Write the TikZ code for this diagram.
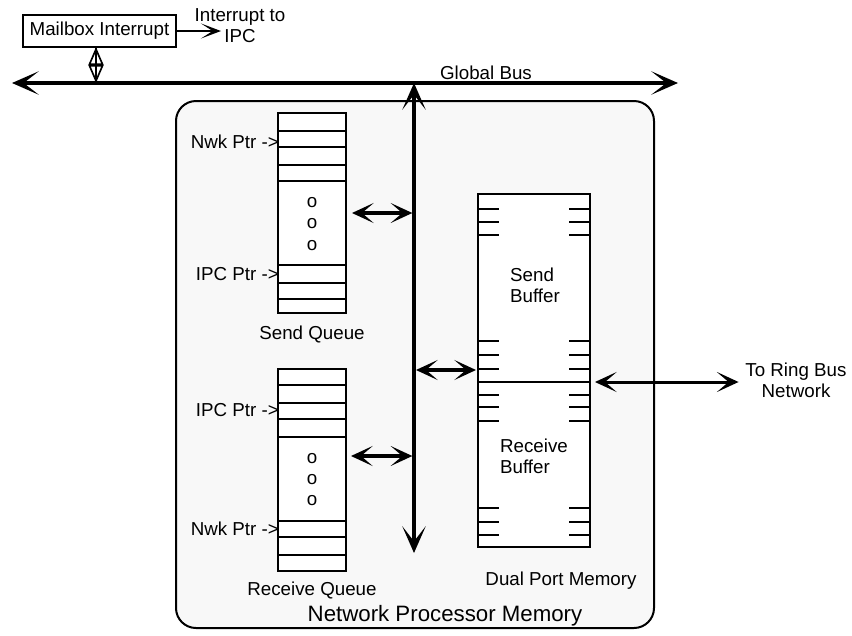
\documentclass[tikz,border=0pt]{standalone}
\usepackage{fontspec}
\setmainfont{Liberation Sans}
\usepackage{xcolor}
\definecolor{npmgray}{HTML}{F8F8F8}
\usetikzlibrary{arrows.meta,positioning,calc}
\newcommand{\pxu}{0.3mm}

\begin{document}
\begin{tikzpicture}[x=0.3mm,y=-0.3mm,font=\fontsize{16}{18}\selectfont]
\tikzset{
 box/.style={draw,line width=0.6mm,fill=white,inner sep=0pt,outer sep=0pt},
 lbl/.style={inner sep=0pt,align=center},
 bus/.style={{Stealth[length=8mm,width=7mm,inset=4.5mm]}-{Stealth[length=8mm,width=7mm,inset=4.5mm]},line width=1.2mm},
 dbl/.style={{Stealth[length=6.5mm,width=6mm,inset=3.5mm]}-{Stealth[length=6.5mm,width=6mm,inset=3.5mm]},line width=1mm},
 row/.style={line width=0.6mm},
 tick/.style={line width=0.6mm}
}
\useasboundingbox (0,0) rectangle (852,635);

\node[box,line width=0.5mm,minimum width=153*\pxu,minimum height=32*\pxu] (mbox) at (99.5,31) {Mailbox Interrupt};
\node[lbl] (ipc) at (240,26) {Interrupt to\\IPC};
\coordinate (ipcin) at (221,33);
\draw[line width=0.5mm,-{Stealth[length=6mm,width=4.5mm,inset=3.5mm]}] (mbox.east) -- (mbox.east -| ipcin);

\draw[line width=0.6mm,rounded corners=6mm,fill=npmgray] (176,101) rectangle (654,628);

\coordinate (gbl) at (12,83);
\coordinate (gbr) at (678,83);
\draw[bus] (gbl) -- (gbr);
\node[lbl,anchor=base] (gblbl) at (486,79) {Global Bus};

\coordinate (mtap) at (96,83);
\draw[line width=0.7mm] (mtap) -- (mtap |- mbox.south);
\draw[line width=0.5mm,{Stealth[open,inset=0pt,length=5.4mm,width=4.5mm]}-{Stealth[open,inset=0pt,length=5.4mm,width=4.5mm]}] (mtap) -- (mtap |- mbox.south);

\coordinate (vbt) at (414,83);
\coordinate (vbb) at (414,553);
\draw[bus,line width=1mm] (vbb) -- (vbt);

\node[box,minimum width=68*\pxu,minimum height=200*\pxu] (sq) at (312,213) {};
\foreach \y in {131,147,165,181,265,283,299} {\draw[row] (sq.west |- 0,\y) -- (sq.east |- 0,\y);}
\node[lbl,anchor=base east] (snwk) at (279,148) {Nwk Ptr ->};
\node[lbl,anchor=base east] (sipc) at (279,280) {IPC Ptr ->};
\foreach \y [count=\i] in {203,224,246} {\node[lbl] (sdot\i) at (312,\y) {o};}
\node[lbl,anchor=base] (sqlbl) at (312,339) {Send Queue};

\node[box,minimum width=68*\pxu,minimum height=202*\pxu] (rq) at (312,470) {};
\foreach \y in {385,403,419,437,521,537,555} {\draw[row] (rq.west |- 0,\y) -- (rq.east |- 0,\y);}
\node[lbl,anchor=base east] (ripc) at (279,416) {IPC Ptr ->};
\node[lbl,anchor=base east] (rnwk) at (279,535) {Nwk Ptr ->};
\foreach \y [count=\i] in {459,480,501} {\node[lbl] (rdot\i) at (312,\y) {o};}
\node[lbl,anchor=base] (rqlbl) at (312,595) {Receive Queue};

\node[box,minimum width=112*\pxu,minimum height=188*\pxu] (sbuf) at (534,288) {};
\node[box,anchor=north,minimum width=112*\pxu,minimum height=165*\pxu] (rbuf) at (sbuf.south) {};
\foreach \y in {209,222,235,341,355,369,395,407,421,508,522,535} {
 \draw[tick] (sbuf.west |- 0,\y) -- +(21,0);
 \draw[tick] (sbuf.east |- 0,\y) -- +(-21,0);
}
\node[lbl,align=left] (sbtxt) at (535,285) {Send\\Buffer};
\node[lbl,align=left] (rbtxt) at (534,456) {Receive\\Buffer};
\node[lbl,anchor=base] (dpm) at (561,585) {Dual Port Memory};

\node[lbl] (ring) at (796,380) {To Ring Bus\\Network};
\node[lbl,anchor=base,font=\fontsize{19}{22}\selectfont] (npm) at (445,621) {Network Processor Memory};

\draw[dbl,shorten <=1.8mm,shorten >=0.5mm] (sq.east) -- (sq.east -| vbt);
\coordinate (rqa) at ($(rq.east)+(0,-14)$);
\draw[dbl,shorten <=1.5mm,shorten >=0.5mm] (rqa) -- (rqa -| vbt);
\coordinate (sba) at ($(sbuf.south west)+(0,-12)$);
\draw[dbl,shorten <=0.6mm,shorten >=0.6mm] (sba) -- (sba -| vbt);
\draw[dbl,line width=0.9mm,shorten <=1.5mm,shorten >=2mm] (sbuf.south east) -- (sbuf.south east -| ring.west);
\end{tikzpicture}
\end{document}
